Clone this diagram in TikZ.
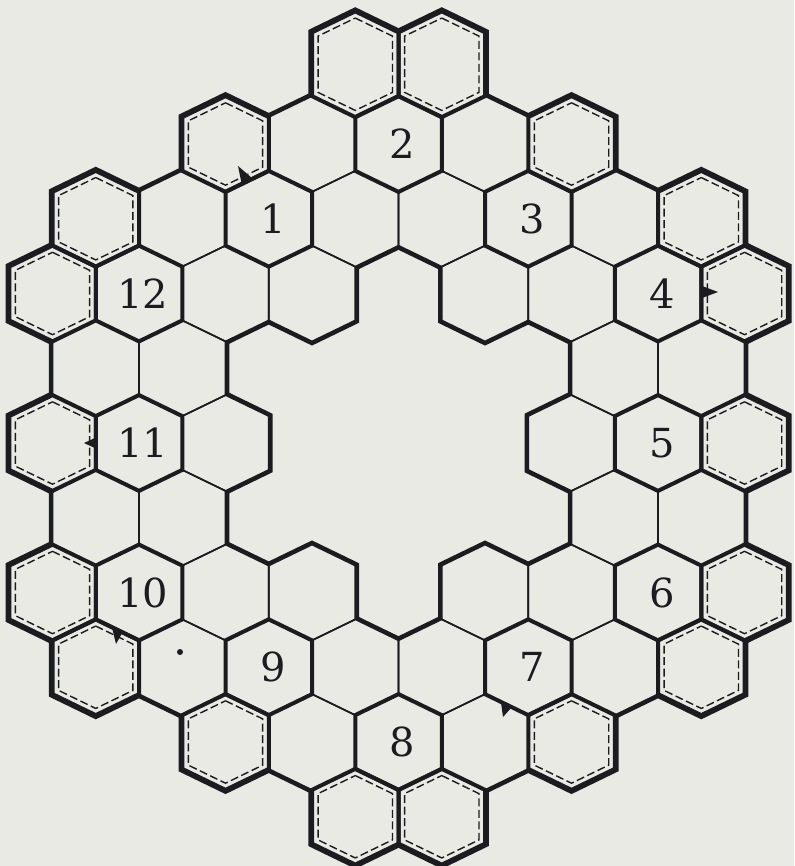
\documentclass[tikz,border=0pt]{standalone}
\usepackage{amsmath}
\usepackage{fontspec}
\usepackage{tikz}
\newfontfamily\cellfont{DejaVu Serif}

\definecolor{paper}{RGB}{232,234,227}
\definecolor{ink}{RGB}{28,28,32}

\begin{document}
\begin{tikzpicture}[x=1pt,y=-1pt,
		rim/.style={draw=ink,line width=7.5pt},
		plain cell/.style={draw=ink,line width=1.6pt},
		num cell/.style={draw=ink,line width=4pt},
		spare cell/.style={draw=ink,line width=4pt},
		spare inner/.style={draw=ink,line width=1.4pt,dash pattern=on 8pt off 3.5pt},
		num label/.style={text=ink,inner sep=0pt,xshift=4pt,font=\cellfont\fontsize{40}{40}\selectfont}]
			\useasboundingbox (0,0) rectangle (794,866);
			\fill[paper] (0,0) rectangle (794,866);
			
			% centre of a cell from doubled column and row
			\def\cx#1{52.5+43.25*#1}
			\def\cy#1{69.25+74.75*#1}
			% outline: centre, scale, extra height on top
			\def\hexat#1#2#3#4{({#1},{#2-47.9*#3-#4}) -- ++({43.25*#3},{21*#3}) -- ++(0,{53.8*#3+#4}) -- ++({-43.25*#3},{21*#3}) -- ++({-43.25*#3},{-21*#3}) -- ++(0,{-53.8*#3-#4}) -- cycle}
			
			\def\plaincells{6/1,10/1,3/2,7/2,9/2,13/2,4/3,6/3,10/3,12/3,1/4,3/4,13/4,15/4,4/5,12/5,1/6,3/6,13/6,15/6,4/7,6/7,10/7,12/7,3/8,7/8,9/8,13/8,6/9,10/9}
			\def\numcells{5/2/1,8/1/2,11/2/3,14/3/4,14/5/5,14/7/6,11/8/7,8/9/8,5/8/9,2/7/10,2/5/11,2/3/12}
			\def\sparecells{7/0/10,9/0/10,4/1/0,12/1/0,1/2/0,15/2/0,0/3/0,16/3/0,0/5/0,16/5/0,0/7/0,16/7/0,1/8/0,15/8/0,4/9/0,12/9/0,7/10/0,9/10/0}
			
			% heavy rim round the board: fat strokes, then filled over
			\foreach \c/\r in \plaincells {\path[rim] \hexat{\cx\c}{\cy\r}{1}{0};}
			\foreach \c/\r/\n in \numcells {\path[rim] \hexat{\cx\c}{\cy\r}{1}{0};}
			\foreach \c/\r/\e in \sparecells {\path[rim] \hexat{\cx\c}{\cy\r}{1}{\e};}
			\foreach \c/\r in \plaincells {\fill[paper] \hexat{\cx\c}{\cy\r}{1}{0};}
			\foreach \c/\r/\n in \numcells {\fill[paper] \hexat{\cx\c}{\cy\r}{1}{0};}
			\foreach \c/\r/\e in \sparecells {\fill[paper] \hexat{\cx\c}{\cy\r}{1}{\e};}
			
			\foreach \c/\r in \plaincells {\path[plain cell] \hexat{\cx\c}{\cy\r}{1}{0};}
			
			\foreach \c/\r/\e in \sparecells {
				\path[spare cell] \hexat{\cx\c}{\cy\r}{1}{\e};
				\path[spare inner] \hexat{\cx\c}{\cy\r}{0.86}{\e};
			}
			
			\foreach \c/\r/\n in \numcells {
				\path[num cell] \hexat{\cx\c}{\cy\r}{1}{0};
				\node[num label] (num\n) at ({\cx\c},{\cy\r}) {\n};
			}
			
			% small flags on the edges
			\fill[ink] (241.6,183.6) -- (238,166) -- (252.4,178.4) -- cycle;
			\fill[ink] (702,286) -- (718,292) -- (702,298) -- cycle;
			\fill[ink] (97,437) -- (84,443) -- (97,449) -- cycle;
			\fill[ink] (112,627.5) -- (116,644) -- (122.5,632.5) -- cycle;
			\fill[ink] (501,702.5) -- (503,717) -- (511.5,707.5) -- cycle;
			\fill[ink] (180,652) circle (3);
		\end{tikzpicture}
\end{document}
